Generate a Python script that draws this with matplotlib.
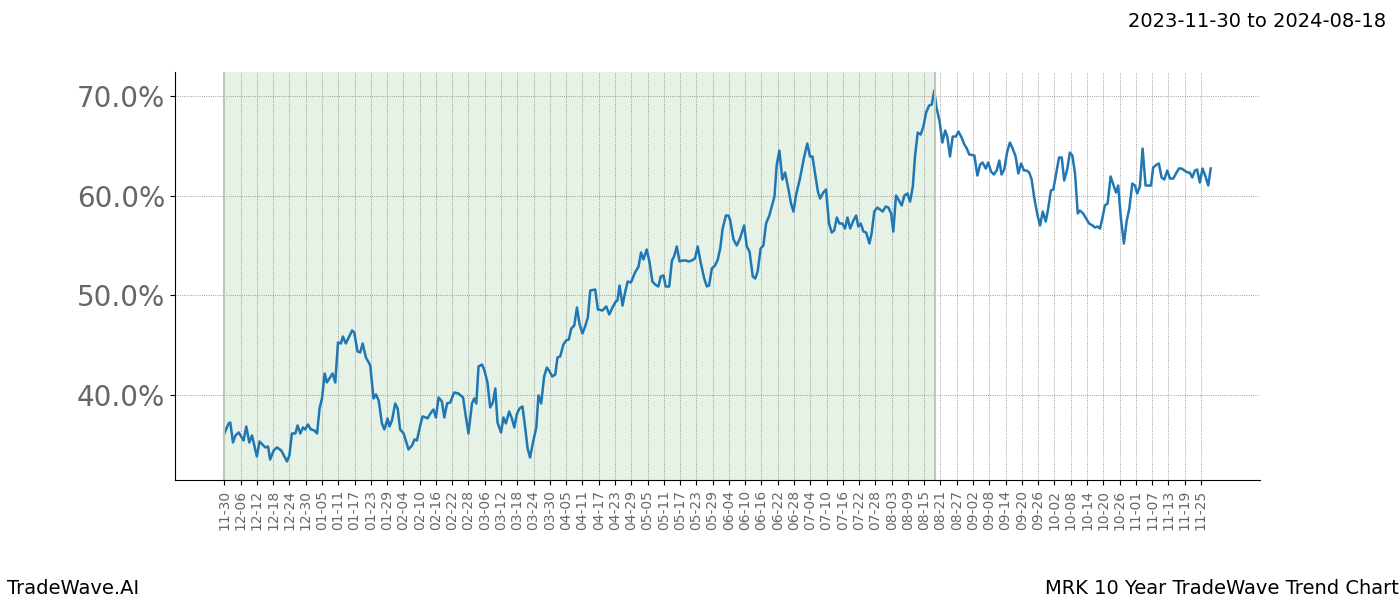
import matplotlib
matplotlib.use('Agg')
import matplotlib.pyplot as plt
from matplotlib.ticker import FuncFormatter

title_range = '2023-11-30 to 2024-08-18'
footer_left = 'TradeWave.AI'
footer_right = 'MRK 10 Year TradeWave Trend Chart'

# days after 11-30 and trend value (%)
days = [0.0, 1.6, 2.2, 3.2, 4.1, 5.3, 7.1, 8.1, 9.2, 10.2, 12.0, 13.0, 15.1, 16.1, 16.9, 18.2, 19.4, 21.0, 23.1, 24.0,
        24.9, 26.2, 27.0, 28.0, 29.0, 29.8, 30.8, 31.9, 33.2, 34.2, 35.1, 36.0, 37.0, 37.8, 39.9, 40.9, 41.9, 43.0, 43.7, 44.8,
        47.1, 47.9, 49.1, 50.1, 51.0, 52.2, 53.8, 55.0, 55.9, 56.9, 58.1, 59.0, 60.2, 60.9, 61.8, 63.0, 63.9, 64.8, 66.1, 67.9,
        69.2, 70.1, 71.0, 72.2, 73.1, 74.3, 74.9, 76.2, 77.1, 78.0, 79.0, 80.2, 81.1, 82.1, 83.3, 84.7, 86.3, 88.0, 88.8, 90.0,
        91.3, 92.1, 92.9, 93.7, 95.0, 95.9, 97.0, 98.0, 99.0, 99.9, 100.7, 102.0, 102.9, 103.8, 105.0, 106.0, 106.9, 107.8, 108.8, 109.9,
        110.9, 111.8, 112.7, 113.7, 115.0, 115.8, 116.8, 117.9, 118.9, 119.9, 120.9, 122.0, 122.8, 123.8, 125.0, 126.0, 127.0, 127.9, 129.0, 130.0,
        130.9, 132.0, 133.0, 134.0, 134.9, 136.7, 137.7, 139.4, 140.8, 141.9, 142.9, 144.3, 144.9, 145.7, 146.8, 147.8, 148.7, 149.9, 151.4, 152.7,
        153.6, 154.5, 155.7, 156.7, 157.8, 158.8, 160.0, 160.9, 161.9, 162.7, 164.0, 165.0, 165.8, 166.8, 167.8, 168.9, 170.1, 171.1, 172.3, 173.5,
        174.5, 175.6, 176.9, 177.9, 178.7, 179.7, 180.9, 181.9, 182.8, 183.7, 184.9, 185.8, 186.4, 187.7, 188.9, 190.1, 191.6, 192.6, 193.6, 194.8,
        195.7, 196.6, 197.7, 198.7, 199.7, 200.9, 202.8, 203.6, 204.6, 205.7, 206.7, 207.9, 208.9, 209.8, 210.8, 212.2, 213.7, 214.9, 215.9, 216.8,
        218.0, 218.8, 219.6, 220.8, 221.8, 222.9, 223.9, 224.8, 225.8, 226.7, 227.8, 228.8, 229.7, 230.7, 231.9, 232.9, 233.7, 234.6, 235.6, 236.6,
        237.8, 238.6, 239.6, 240.7, 241.7, 242.7, 243.8, 244.8, 245.8, 246.6, 247.6, 248.5, 249.7, 250.7, 251.8, 252.8, 253.8, 254.6, 255.6, 256.7,
        257.7, 258.7, 259.8, 260.8, 261.7, 262.6, 263.6, 264.7, 265.7, 266.5, 267.5, 268.5, 269.7, 270.6, 271.8, 272.8, 273.7, 274.6, 276.5, 277.6,
        278.6, 279.5, 280.7, 281.6, 282.6, 283.7, 284.7, 285.7, 286.5, 287.5, 288.6, 289.6, 290.6, 291.7, 292.7, 293.7, 294.8, 295.8, 296.7, 297.6,
        298.6, 299.7, 300.7, 301.7, 302.8, 303.7, 304.7, 305.6, 306.6, 307.7, 308.7, 309.6, 310.7, 311.7, 312.6, 313.6, 314.6, 315.4, 316.6, 317.9,
        318.8, 320.1, 320.9, 321.8, 322.8, 323.8, 324.6, 325.6, 326.7, 327.7, 328.7, 329.5, 330.5, 331.6, 332.6, 333.6, 334.7, 335.7, 336.5, 337.5,
        338.5, 339.6, 340.6, 341.6, 342.4, 343.7, 344.5, 345.5, 346.5, 347.6, 348.6, 349.8, 350.8, 351.9, 352.9, 353.9, 355.1, 355.9, 356.8, 357.8,
        358.6, 359.6, 360.6, 361.7, 362.7, 363.6]
values = [36.2, 37.2, 37.3, 35.3, 36.0, 36.3, 35.5, 36.9, 35.3, 36.0, 33.9, 35.4, 34.8, 34.9, 33.6, 34.5, 34.8, 34.5, 33.4, 34.0,
          36.2, 36.2, 37.0, 36.2, 36.8, 36.6, 37.1, 36.6, 36.5, 36.2, 38.7, 39.7, 42.2, 41.3, 42.2, 41.3, 45.3, 45.2, 45.9, 45.2,
          46.5, 46.3, 44.4, 44.3, 45.2, 43.8, 43.0, 39.7, 40.1, 39.5, 37.2, 36.6, 37.7, 36.9, 37.5, 39.2, 38.7, 36.6, 36.2, 34.6,
          35.0, 35.6, 35.5, 37.0, 37.9, 37.8, 37.7, 38.3, 38.6, 37.8, 39.8, 39.4, 37.8, 39.2, 39.3, 40.3, 40.2, 39.8, 38.3, 36.2,
          39.2, 39.7, 39.2, 42.9, 43.1, 42.5, 41.3, 38.8, 39.3, 40.7, 37.3, 36.3, 37.8, 37.2, 38.4, 37.7, 36.8, 38.1, 38.7, 38.9,
          36.8, 34.7, 33.8, 35.2, 36.8, 40.0, 39.2, 41.9, 42.8, 42.4, 41.9, 42.1, 43.8, 43.9, 45.1, 45.5, 45.6, 46.7, 47.0, 48.8,
          47.2, 46.2, 46.9, 47.8, 50.5, 50.6, 48.6, 48.5, 48.9, 48.1, 48.7, 49.4, 49.5, 51.0, 49.0, 50.4, 51.4, 51.3, 52.3, 52.9,
          54.3, 53.6, 54.6, 53.4, 51.4, 51.1, 50.9, 51.9, 52.0, 50.9, 50.9, 53.5, 53.9, 54.9, 53.4, 53.5, 53.5, 53.4, 53.5, 53.7,
          54.9, 53.3, 51.7, 50.9, 51.0, 52.7, 53.0, 53.6, 54.7, 56.7, 58.0, 58.0, 57.6, 55.6, 55.0, 55.7, 57.0, 54.9, 54.4, 51.9,
          51.7, 52.4, 54.7, 55.0, 57.2, 58.0, 59.9, 63.0, 64.5, 61.6, 62.3, 60.7, 59.2, 58.4, 60.1, 61.7, 63.8, 65.2, 63.9, 63.9,
          61.8, 60.4, 59.7, 60.3, 60.6, 57.2, 56.3, 56.5, 57.8, 57.2, 57.2, 56.7, 57.8, 56.7, 57.5, 58.0, 56.9, 57.2, 56.4, 56.3,
          55.2, 56.2, 58.4, 58.8, 58.6, 58.4, 58.9, 58.8, 58.2, 56.4, 60.0, 59.6, 59.0, 60.0, 60.2, 59.4, 60.9, 63.9, 66.3, 66.1,
          66.9, 68.3, 69.0, 69.1, 70.5, 68.7, 67.5, 65.3, 66.5, 65.9, 63.9, 65.9, 65.9, 66.4, 65.8, 65.1, 64.7, 64.1, 64.0, 62.0,
          63.1, 63.3, 62.7, 63.3, 62.4, 62.1, 62.5, 63.5, 62.1, 62.6, 64.4, 65.3, 64.7, 63.9, 62.2, 63.2, 62.5, 62.5, 62.3, 61.6,
          59.7, 58.1, 57.0, 58.4, 57.4, 58.7, 60.5, 60.6, 62.1, 63.8, 63.8, 61.5, 62.6, 64.3, 64.0, 62.2, 58.2, 58.5, 58.2, 57.6,
          57.2, 57.0, 56.8, 56.9, 56.7, 57.9, 59.0, 59.2, 61.9, 61.1, 60.3, 61.0, 57.7, 55.2, 57.4, 58.7, 61.2, 61.0, 60.2, 60.9,
          64.7, 61.0, 61.0, 61.0, 62.8, 63.1, 63.2, 61.8, 61.6, 62.5, 61.7, 61.7, 62.2, 62.7, 62.7, 62.5, 62.3, 62.3, 61.8, 62.5,
          62.6, 61.3, 62.7, 61.9, 61.0, 62.7]

shade_end = 262  # 08-18
tick_labels = ['11-30', '12-06', '12-12', '12-18', '12-24', '12-30', '01-05', '01-11', '01-17', '01-23', '01-29',
               '02-04', '02-10', '02-16', '02-22', '02-28', '03-06', '03-12', '03-18', '03-24', '03-30',
               '04-05', '04-11', '04-17', '04-23', '04-29', '05-05', '05-11', '05-17', '05-23', '05-29',
               '06-04', '06-10', '06-16', '06-22', '06-28', '07-04', '07-10', '07-16', '07-22', '07-28',
               '08-03', '08-09', '08-15', '08-21', '08-27', '09-02', '09-08', '09-14', '09-20', '09-26',
               '10-02', '10-08', '10-14', '10-20', '10-26', '11-01', '11-07', '11-13', '11-19', '11-25']
tick_step = 6

fig = plt.figure(figsize=(14, 6), dpi=100)
ax = fig.add_axes([0.125, 0.2, 0.775, 0.68])

ax.plot(days, values, color='#1f77b4', lw=1.8)
ax.axvspan(0, shade_end, color='green', alpha=0.1, lw=0)
ax.axvline(0, color='#bbc9bb', lw=1.5)
ax.axvline(shade_end, color='#bbc9bb', lw=1.5)

ax.set_xticks([i * tick_step for i in range(len(tick_labels))])
ax.set_xticklabels(tick_labels, rotation=90, fontsize=10, color='#666666')
ax.set_yticks([40, 50, 60, 70])
ax.yaxis.set_major_formatter(FuncFormatter(lambda v, p: '%.1f%%' % v))
ax.tick_params(axis='y', labelsize=20, labelcolor='#666666')
ax.grid(True, linestyle=':', color='gray', lw=0.6)
ax.spines['top'].set_visible(False)
ax.spines['right'].set_visible(False)

fig.text(0.99, 0.98, title_range, ha='right', va='top', fontsize=14)
fig.text(0.005, 0.02, footer_left, ha='left', va='center', fontsize=14)
fig.text(0.999, 0.02, footer_right, ha='right', va='center', fontsize=14)

plt.savefig('out.png')
plt.close()
